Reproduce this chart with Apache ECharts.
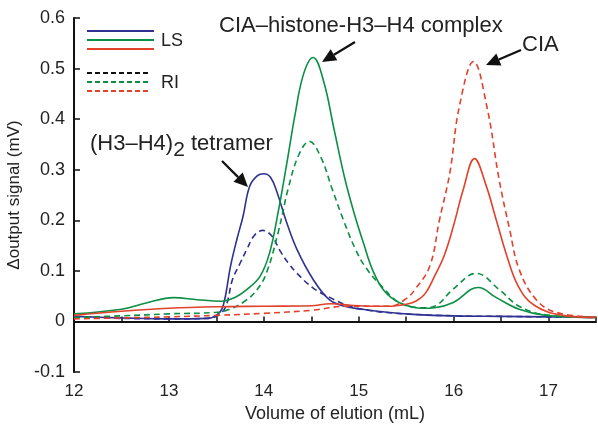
<!DOCTYPE html>
<html>
<head>
<meta charset="utf-8">
<script src="https://cdn.jsdelivr.net/npm/echarts@6/dist/echarts.min.js"></script>
<style>
  html, body { margin: 0; padding: 0; background: #fff; }
  #main { width: 598px; height: 425px; }
</style>
</head>
<body>
<div id="main"></div>
<script>
// elution volume (mL) / signal (mV)
const blueLSx = [12, 12.5, 13, 13.4, 13.5, 13.57, 13.65, 13.72, 13.78, 13.85, 13.93, 14.0, 14.07, 14.14, 14.24, 14.35, 14.52, 14.69, 14.85, 15.04, 15.3, 15.57, 16, 16.5, 17, 17.5]
const blueLSy = [0.01, 0.007, 0.005, 0.006, 0.012, 0.03, 0.11, 0.165, 0.207, 0.267, 0.288, 0.292, 0.285, 0.255, 0.196, 0.142, 0.083, 0.043, 0.03, 0.024, 0.018, 0.014, 0.011, 0.01, 0.009, 0.008]
const blueRIx = [12, 12.5, 13, 13.4, 13.52, 13.6, 13.67, 13.75, 13.82, 13.9, 13.99, 14.08, 14.17, 14.26, 14.35, 14.52, 14.69, 14.9, 15.1, 15.4, 16, 16.5, 17, 17.5]
const blueRIy = [0.008, 0.006, 0.005, 0.006, 0.012, 0.03, 0.083, 0.115, 0.142, 0.17, 0.18, 0.17, 0.14, 0.115, 0.095, 0.066, 0.048, 0.03, 0.022, 0.016, 0.011, 0.01, 0.009, 0.008]
const greenLSx = [12, 12.5, 12.77, 13.05, 13.3, 13.55, 13.7, 13.82, 13.96, 14.06, 14.15, 14.24, 14.33, 14.42, 14.52, 14.63, 14.74, 14.85, 14.95, 15.05, 15.15, 15.27, 15.43, 15.68, 15.8, 15.99, 16.26, 16.45, 16.69, 16.97, 17.5]
const greenLSy = [0.015, 0.024, 0.037, 0.047, 0.043, 0.04, 0.048, 0.063, 0.089, 0.135, 0.215, 0.31, 0.41, 0.49, 0.522, 0.475, 0.38, 0.285, 0.215, 0.155, 0.1, 0.06, 0.037, 0.026, 0.027, 0.037, 0.067, 0.047, 0.024, 0.012, 0.008]
const greenRIx = [12, 12.5, 13, 13.5, 13.64, 13.8, 13.93, 14.03, 14.15, 14.26, 14.37, 14.48, 14.6, 14.72, 14.84, 14.96, 15.08, 15.25, 15.43, 15.68, 15.8, 15.99, 16.24, 16.48, 16.69, 16.97, 17.5]
const greenRIy = [0.008, 0.011, 0.015, 0.018, 0.024, 0.04, 0.063, 0.097, 0.175, 0.265, 0.33, 0.356, 0.325, 0.262, 0.2, 0.145, 0.105, 0.068, 0.037, 0.027, 0.03, 0.063, 0.095, 0.063, 0.03, 0.013, 0.008]
const redLSx = [12, 12.5, 13, 13.5, 14, 14.5, 14.7, 15, 15.3, 15.5, 15.6, 15.7, 15.8, 15.9, 16.0, 16.1, 16.22, 16.34, 16.45, 16.56, 16.68, 16.85, 17.15, 17.5]
const redLSy = [0.012, 0.02, 0.026, 0.029, 0.03, 0.031, 0.035, 0.031, 0.03, 0.034, 0.04, 0.055, 0.09, 0.13, 0.19, 0.26, 0.322, 0.27, 0.2, 0.13, 0.07, 0.032, 0.012, 0.008]
const redRIx = [12, 12.5, 13, 13.5, 14, 14.5, 14.87, 15.33, 15.5, 15.6, 15.75, 15.85, 15.96, 16.06, 16.21, 16.35, 16.48, 16.59, 16.69, 16.87, 17.08, 17.5]
const redRIy = [0.005, 0.007, 0.009, 0.012, 0.016, 0.022, 0.03, 0.03, 0.045, 0.065, 0.11, 0.2, 0.294, 0.425, 0.514, 0.425, 0.28, 0.182, 0.103, 0.043, 0.018, 0.008]

const xTicks = [12, 13, 14, 15, 16, 17]

const BLUE = '#2e3192'
const GREEN = '#0b8f45'
const RED = '#e2412b'
const FONT = 'Liberation Sans'

function pairs(xs, ys) {
  return xs.map((x, i) => [x, ys[i]])
}

function line(name, xs, ys, color, dashed) {
  return {
    name: name,
    type: 'line',
    data: pairs(xs, ys),
    smooth: 0.4,
    showSymbol: false,
    silent: true,
    lineStyle: {
      color: color,
      width: 1.6,
      type: dashed ? [6, 4] : 'solid'
    }
  }
}

// arrow drawn as a shaft plus a filled head, pixel coords
function arrow(x1, y1, x2, y2) {
  const a = Math.atan2(y2 - y1, x2 - x1)
  const len = 14
  const w = 6.5
  const bx = x2 - len * Math.cos(a)
  const by = y2 - len * Math.sin(a)
  const nx = -Math.sin(a)
  const ny = Math.cos(a)
  return [
    {
      type: 'line',
      shape: { x1: x1, y1: y1, x2: bx, y2: by },
      style: { stroke: '#111', lineWidth: 2.2 }
    },
    {
      type: 'polygon',
      shape: { points: [[x2, y2], [bx + nx * w, by + ny * w], [bx - nx * w, by - ny * w]] },
      style: { fill: '#111' }
    }
  ]
}

function legendLine(y, color, dashed) {
  return {
    type: 'line',
    shape: { x1: 87, y1: y, x2: dashed ? 151 : 154, y2: y },
    style: { stroke: color, lineWidth: 2, lineDash: dashed ? [5, 3] : null }
  }
}

function label(text, x, y, size) {
  return {
    type: 'text',
    x: x,
    y: y,
    style: {
      text: text,
      fontFamily: FONT,
      fontSize: size,
      fill: '#222',
      textVerticalAlign: 'middle'
    }
  }
}

const chart = echarts.init(document.getElementById('main'))

const option = {
  animation: false,
  grid: { left: 74, right: 2, top: 18, bottom: 53, outerBoundsMode: 'none', containLabel: false },
  xAxis: {
    type: 'value',
    min: 12,
    max: 17.5,
    interval: 1,
    name: 'Volume of elution (mL)',
    nameLocation: 'middle',
    nameGap: 31,
    nameTextStyle: { fontFamily: FONT, fontSize: 18, color: '#222' },
    axisLine: { lineStyle: { color: '#111', width: 2 } },
    axisTick: { inside: true, length: 5, lineStyle: { color: '#111', width: 1.5 } },
    minorTick: { show: true, splitNumber: 2, length: 5, lineStyle: { color: '#111', width: 1.5 } },
    axisLabel: {
      fontFamily: FONT,
      fontSize: 17,
      color: '#222',
      margin: 11,
      formatter: v => (xTicks.indexOf(v) >= 0 ? String(v) : '')
    },
    splitLine: { show: false }
  },
  yAxis: {
    type: 'value',
    min: -0.1,
    max: 0.6,
    interval: 0.1,
    name: 'Δoutput signal (mV)',
    nameLocation: 'middle',
    nameGap: 47,
    nameTextStyle: { fontFamily: FONT, fontSize: 17, color: '#222' },
    axisLine: { show: true, lineStyle: { color: '#111', width: 2 } },
    axisTick: { show: true, inside: true, length: 6, lineStyle: { color: '#111', width: 1.5 } },
    axisLabel: {
      fontFamily: FONT,
      fontSize: 18,
      color: '#222',
      margin: 9,
      formatter: v => String(Math.round(v * 10) / 10)
    },
    splitLine: { show: false }
  },
  series: [
    line('LS blue', blueLSx, blueLSy, BLUE, false),
    line('RI blue', blueRIx, blueRIy, BLUE, true),
    line('LS green', greenLSx, greenLSy, GREEN, false),
    line('RI green', greenRIx, greenRIy, GREEN, true),
    line('RI red', redRIx, redRIy, RED, true),
    line('LS red', redLSx, redLSy, RED, false)
  ],
  graphic: [
    legendLine(31, BLUE, false),
    legendLine(40, GREEN, false),
    legendLine(49, RED, false),
    legendLine(73, '#111', true),
    legendLine(82, GREEN, true),
    legendLine(91, RED, true),
    label('LS', 161, 41, 18),
    label('RI', 161, 83, 18),
    label('CIA–histone-H3–H4 complex', 219, 26, 22),
    label('CIA', 522, 45, 22),
    {
      type: 'text',
      x: 90,
      y: 144,
      style: {
        text: '(H3–H4){sub|2} tetramer',
        fontFamily: FONT,
        fontSize: 22,
        fill: '#222',
        textVerticalAlign: 'middle',
        rich: {
          sub: { fontFamily: FONT, fontSize: 21, fill: '#222', padding: [13, 0, 0, 0] }
        }
      }
    },
    ...arrow(222, 161, 248, 187),
    ...arrow(355, 42, 322, 62),
    ...arrow(521, 50, 486, 65)
  ]
}

chart.setOption(option)
</script>
</body>
</html>
